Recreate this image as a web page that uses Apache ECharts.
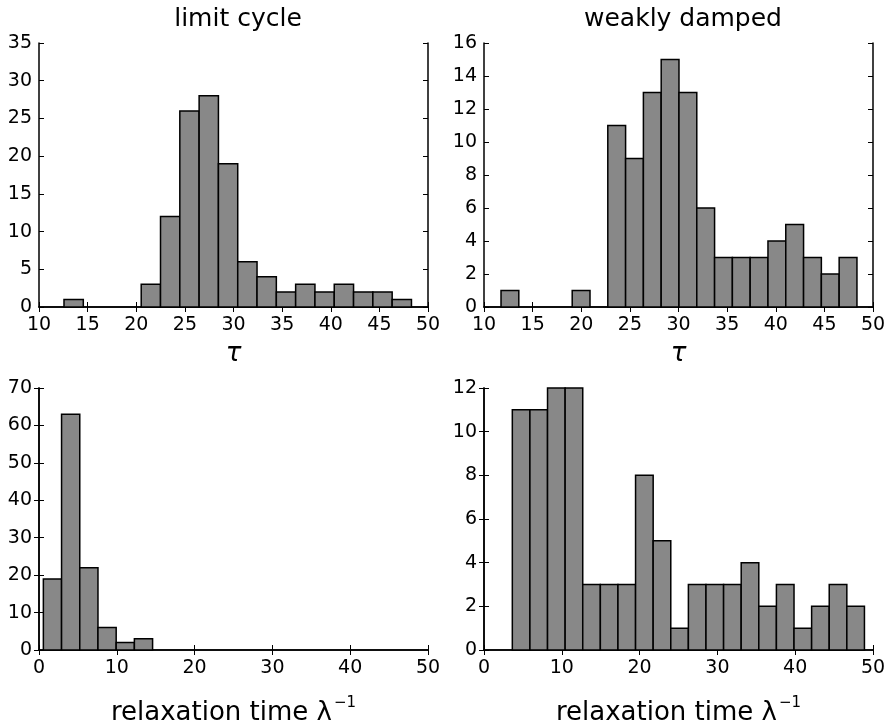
<!DOCTYPE html>
<html>
<head>
<meta charset="utf-8">
<script src="https://cdn.jsdelivr.net/npm/echarts@6/dist/echarts.min.js"></script>
<style>
html,body{margin:0;background:#fff}
#chart{width:892px;height:727px}
</style>
</head>
<body>
<div id="chart"></div>
<script>
// histogram data: first bin edge, bin width, counts per bin
// limit cycle, tau
const tauLimitStart = 12.57, tauLimitWidth = 1.985;
const tauLimitCounts = [1,0,0,0,3,12,26,28,19,6,4,2,3,2,3,2,2,1];
// weakly damped, tau
const tauDampStart = 11.75, tauDampWidth = 1.83;
const tauDampCounts = [1,0,0,0,1,0,11,9,13,15,13,6,3,3,3,4,5,3,2,3];
// limit cycle, relaxation time
const relLimitStart = 0.56, relLimitWidth = 2.34;
const relLimitCounts = [19,63,22,6,2,3];
// weakly damped, relaxation time
const relDampStart = 3.64, relDampWidth = 2.263;
const relDampCounts = [11,11,12,12,3,3,3,8,5,1,3,3,3,4,2,3,1,2,3,2];

const titles = ['limit cycle', 'weakly damped'];

const font = 'DejaVu Sans';

function bins(start, width, counts) {
  return counts.map((c, i) => [start + i * width, start + (i + 1) * width, c]);
}

function renderBar(params, api) {
  if (api.value(2) <= 0) return null;
  const p0 = api.coord([api.value(0), api.value(2)]);
  const p1 = api.coord([api.value(1), 0]);
  return {
    type: 'rect',
    shape: { x: p0[0], y: p0[1], width: p1[0] - p0[0], height: p1[1] - p0[1] },
    style: { fill: '#888888', stroke: '#000', lineWidth: 1.5 }
  };
}

const panels = [
  { data: bins(tauLimitStart, tauLimitWidth, tauLimitCounts), xmin: 10, xmax: 50, xint: 5, ymax: 35, yint: 5, tau: true },
  { data: bins(tauDampStart, tauDampWidth, tauDampCounts), xmin: 10, xmax: 50, xint: 5, ymax: 16, yint: 2, tau: true },
  { data: bins(relLimitStart, relLimitWidth, relLimitCounts), xmin: 0, xmax: 50, xint: 10, ymax: 70, yint: 10, tau: false },
  { data: bins(relDampStart, relDampWidth, relDampCounts), xmin: 0, xmax: 50, xint: 10, ymax: 12, yint: 2, tau: false }
];

const grids = [
  { left: 39, right: 464, top: 43, height: 264 },
  { left: 484, right: 19, top: 43, height: 264 },
  { left: 39, right: 464, top: 388, height: 264 },
  { left: 484, right: 19, top: 388, height: 264 }
];

const line = { show: true, lineStyle: { color: '#000', width: 1.5 } };
const tick = { show: true, inside: true, length: 5, lineStyle: { color: '#000', width: 1 } };
const lbl = { color: '#000', fontFamily: font, fontSize: 19, showMinLabel: true, showMaxLabel: true };

const xAxes = [], yAxes = [], series = [];
panels.forEach((p, k) => {
  const name = p.tau ? '{t|τ}' : '{a|relaxation time λ}{s|−1}';
  xAxes.push({
    type: 'value', gridIndex: k, position: 'bottom', min: p.xmin, max: p.xmax, interval: p.xint,
    axisLine: line, axisTick: tick, splitLine: { show: false },
    axisLabel: Object.assign({ margin: 9 }, lbl),
    name: name, nameLocation: 'middle', nameGap: p.tau ? 34 : 46,
    nameTextStyle: {
      rich: {
        t: { fontFamily: font, fontStyle: 'italic', fontSize: 26, color: '#000' },
        a: { fontFamily: font, fontSize: 26, color: '#000', lineHeight: 30, verticalAlign: 'bottom' },
        s: { fontFamily: font, fontSize: 15, color: '#000', lineHeight: 30, verticalAlign: 'top', padding: [0, 0, 12, 2] }
      }
    }
  });
  xAxes.push({
    type: 'value', gridIndex: k, position: 'top', min: p.xmin, max: p.xmax, interval: p.xint,
    axisLine: line, axisTick: tick, axisLabel: { show: false }, splitLine: { show: false }
  });
  yAxes.push({
    type: 'value', gridIndex: k, position: 'left', min: 0, max: p.ymax, interval: p.yint,
    axisLine: line, axisTick: tick, splitLine: { show: false },
    axisLabel: Object.assign({ margin: 7 }, lbl)
  });
  yAxes.push({
    type: 'value', gridIndex: k, position: 'right', min: 0, max: p.ymax, interval: p.yint,
    axisLine: line, axisTick: tick, axisLabel: { show: false }, splitLine: { show: false }
  });
  series.push({
    type: 'custom', xAxisIndex: 2 * k, yAxisIndex: 2 * k,
    renderItem: renderBar, encode: { x: [0, 1], y: 2 },
    data: p.data, silent: true, clip: false
  });
});

const chart = echarts.init(document.getElementById('chart'));
chart.setOption({
  animation: false,
  backgroundColor: '#fff',
  title: [
    { text: titles[0], left: 233, top: 2, textAlign: 'center', textStyle: { fontFamily: font, fontSize: 25, fontWeight: 'normal', color: '#000' } },
    { text: titles[1], left: 678, top: 2, textAlign: 'center', textStyle: { fontFamily: font, fontSize: 25, fontWeight: 'normal', color: '#000' } }
  ],
  grid: grids,
  xAxis: xAxes,
  yAxis: yAxes,
  series: series
});
</script>
</body>
</html>
